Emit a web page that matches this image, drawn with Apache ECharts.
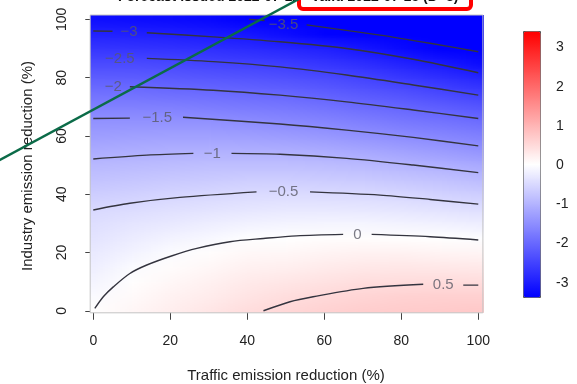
<!DOCTYPE html>
<html>
<head>
<meta charset="utf-8">
<script src="https://cdn.jsdelivr.net/npm/echarts@6/dist/echarts.min.js"></script>
<style>
  html, body { margin: 0; padding: 0; background: #fff; }
  #chart { width: 577px; height: 384px; }
</style>
</head>
<body>
<div id="chart"></div>
<script>
// grid of the surface: columns at xs, rows at ys
const xs = [0, 10, 20, 30, 40, 50, 60, 70, 80, 90, 100];
const ys = [0, 5, 10, 15, 20, 25, 30, 35, 40, 45, 50, 55, 60, 65, 70, 75, 80, 85, 90, 95, 100];
// one array per column (x), values bottom -> top (y)
const zCols = [
  [0.02, -0.06, -0.14, -0.21, -0.28, -0.36, -0.43, -0.51, -0.66, -0.8, -0.94, -1.11, -1.29, -1.46, -1.68, -1.91, -2.14, -2.42, -2.68, -2.95, -3.2],
  [0.12, 0.07, 0.02, -0.05, -0.16, -0.25, -0.35, -0.47, -0.61, -0.76, -0.91, -1.08, -1.27, -1.46, -1.68, -1.92, -2.16, -2.42, -2.7, -2.97, -3.22],
  [0.23, 0.17, 0.11, 0.04, -0.04, -0.16, -0.29, -0.42, -0.56, -0.72, -0.88, -1.05, -1.25, -1.45, -1.7, -1.96, -2.2, -2.45, -2.73, -3.0, -3.25],
  [0.34, 0.26, 0.19, 0.11, 0.03, -0.09, -0.23, -0.38, -0.52, -0.69, -0.86, -1.04, -1.25, -1.47, -1.73, -1.98, -2.24, -2.5, -2.78, -3.05, -3.3],
  [0.45, 0.36, 0.28, 0.19, 0.09, -0.02, -0.17, -0.33, -0.48, -0.66, -0.85, -1.05, -1.28, -1.52, -1.77, -2.03, -2.28, -2.55, -2.83, -3.11, -3.49],
  [0.53, 0.44, 0.33, 0.22, 0.11, 0.0, -0.15, -0.31, -0.47, -0.66, -0.86, -1.07, -1.32, -1.57, -1.82, -2.07, -2.33, -2.6, -2.89, -3.23, -3.6],
  [0.6, 0.51, 0.39, 0.27, 0.15, 0.03, -0.14, -0.31, -0.48, -0.68, -0.88, -1.11, -1.37, -1.63, -1.88, -2.14, -2.4, -2.69, -2.98, -3.37, -3.7],
  [0.65, 0.56, 0.44, 0.31, 0.17, 0.03, -0.14, -0.32, -0.5, -0.71, -0.92, -1.18, -1.46, -1.71, -1.97, -2.24, -2.51, -2.8, -3.11, -3.47, -3.8],
  [0.68, 0.6, 0.46, 0.32, 0.17, 0.02, -0.16, -0.35, -0.54, -0.76, -0.99, -1.25, -1.53, -1.8, -2.05, -2.34, -2.64, -2.95, -3.27, -3.62, -3.95],
  [0.7, 0.62, 0.47, 0.31, 0.15, 0.0, -0.19, -0.39, -0.6, -0.82, -1.06, -1.34, -1.6, -1.87, -2.15, -2.45, -2.76, -3.08, -3.43, -3.75, -4.05],
  [0.72, 0.62, 0.46, 0.3, 0.14, -0.03, -0.23, -0.44, -0.66, -0.89, -1.14, -1.42, -1.68, -1.95, -2.25, -2.57, -2.9, -3.24, -3.58, -3.9, -4.2]
];

// contour lines, split where the label sits
const contourSegments = [
  [[40.5, 100], [44.5, 99.6]],
  [[55.4, 98.1], [74.5, 94.6], [87.5, 91.8], [100, 88.9]],
  [[0, 96], [5, 95.9]],
  [[13.9, 95.4], [31.2, 94.0], [48.5, 92.3], [65.8, 90.0], [83.1, 86.3], [100, 81.7]],
  [[13.9, 86.6], [31.2, 85.5], [48.5, 83.7], [65.8, 80.9], [83.1, 77.5], [100, 74.0]],
  [[9.5, 76.9], [31.2, 75.7], [48.5, 74.0], [65.8, 71.7], [83.1, 68.9], [100, 66.0]],
  [[0, 66.0], [9.5, 66.1]],
  [[23.3, 66.4], [48.5, 64.1], [65.8, 62.0], [83.1, 59.5], [100, 56.6]],
  [[0, 52.1], [13.9, 53.4], [26, 54.0]],
  [[35.9, 54.0], [48.5, 53.7], [65.8, 52.3], [83.1, 50.0], [100, 47.4]],
  [[0, 34.6], [9.5, 36.9], [22.5, 38.9], [42.4, 40.8]],
  [[56.3, 40.8], [74.5, 39.7], [87.5, 38.2], [100, 36.6]],
  [[0.4, 0.8], [2.6, 4.8], [5.2, 8.2], [9.5, 12.8], [13.9, 15.7], [20.3, 18.8], [26.9, 21.4], [35.5, 23.7], [44.2, 24.8], [52.8, 25.7], [64.9, 26.2]],
  [[72.3, 26.2], [87.5, 25.4], [100, 24.3]],
  [[44.2, 0], [51.1, 3.1], [57.1, 4.8], [70.1, 7.7], [85.7, 9.1]],
  [[96.1, 8.8], [100, 8.8]]
];
const contourLabels = [
  ['−3.5', 49.4, 98.0],
  ['−3', 9.3, 95.6],
  ['−2.5', 6.9, 86.6],
  ['−2', 5.2, 76.9],
  ['−1.5', 16.6, 66.1],
  ['−1', 30.9, 54.0],
  ['−0.5', 49.4, 40.8],
  ['0', 68.6, 26.2],
  ['0.5', 90.9, 8.9]
];

const zMin = -3.4, zMax = 3.4;
const X_EXT = [-0.8, 101.2], Y_EXT = [-0.7, 101.5];
const FONT = "'Liberation Sans', Arial, sans-serif";

function zColor(z) {
  const t = Math.max(-1, Math.min(1, z / zMax));
  if (t < 0) {
    const c = Math.round(255 * (1 + t));
    return [c, c, 255];
  }
  const c = Math.round(255 * (1 - t));
  return [255, c, c];
}

// one pixel per grid value; the browser smooths it when it is stretched
const surface = document.createElement('canvas');
surface.width = xs.length;
surface.height = ys.length;
(function () {
  const ctx = surface.getContext('2d');
  const img = ctx.createImageData(xs.length, ys.length);
  for (let i = 0; i < xs.length; i++) {
    for (let k = 0; k < ys.length; k++) {
      const rgb = zColor(zCols[i][k]);
      const p = ((ys.length - 1 - k) * xs.length + i) * 4;
      img.data[p] = rgb[0];
      img.data[p + 1] = rgb[1];
      img.data[p + 2] = rgb[2];
      img.data[p + 3] = 255;
    }
  }
  ctx.putImageData(img, 0, 0);
})();

const chart = echarts.init(document.getElementById('chart'));

const lineSeries = contourSegments.map(seg => ({
  type: 'line',
  xAxisIndex: 0,
  yAxisIndex: 0,
  data: seg,
  smooth: 0.3,
  showSymbol: false,
  silent: true,
  z: 3,
  lineStyle: { color: '#34343f', width: 1.4 }
}));

const dx = (xs[1] - xs[0]) / 2, dy = (ys[1] - ys[0]) / 2;

const option = {
  animation: false,
  backgroundColor: '#fff',
  grid: [
    { left: 90.2, top: 15, width: 392.7, height: 297.8, show: true, borderColor: '#c4c4c4', borderWidth: 1, z: 10 },
    { left: 93.28, top: 19.36, width: 385, height: 291.4 },
    { left: 523, top: 47.6, width: 17, height: 235.2 }
  ],
  xAxis: [
    { gridIndex: 0, type: 'value', min: X_EXT[0], max: X_EXT[1], show: false },
    {
      gridIndex: 1, type: 'value', min: 0, max: 100, interval: 20, offset: 3,
      axisLine: { lineStyle: { color: '#444', width: 1 } },
      axisTick: { length: 9, lineStyle: { color: '#444' } },
      axisLabel: { margin: 20, fontSize: 14, color: '#222', fontFamily: FONT },
      splitLine: { show: false }
    },
    { gridIndex: 2, type: 'value', show: false }
  ],
  yAxis: [
    { gridIndex: 0, type: 'value', min: Y_EXT[0], max: Y_EXT[1], show: false },
    {
      gridIndex: 1, type: 'value', min: 0, max: 100, interval: 20, offset: 5,
      axisLine: { show: true, lineStyle: { color: '#444', width: 1 } },
      axisTick: { show: true, length: 8, lineStyle: { color: '#444' } },
      axisLabel: { margin: 19, rotate: 90, fontSize: 14, color: '#222', fontFamily: FONT },
      splitLine: { show: false }
    },
    {
      gridIndex: 2, type: 'value', min: -3, max: 3, interval: 1, position: 'right',
      axisLine: { show: false },
      axisTick: { show: true, length: 7, lineStyle: { color: '#444' } },
      axisLabel: { margin: 16, fontSize: 14, color: '#222', fontFamily: FONT },
      splitLine: { show: false }
    }
  ],
  visualMap: {
    type: 'continuous',
    seriesIndex: 0,
    min: zMin,
    max: zMax,
    calculable: false,
    orient: 'vertical',
    left: 523,
    top: 31,
    itemWidth: 17,
    itemHeight: 266,
    padding: 0,
    borderColor: '#555',
    borderWidth: 1,
    text: null,
    inRange: { color: ['#0000ff', '#ffffff', '#ff0000'] }
  },
  series: [
    {
      type: 'custom',
      xAxisIndex: 0,
      yAxisIndex: 0,
      silent: true,
      clip: true,
      z: 1,
      data: [[xs[0], ys[0]]],
      renderItem: function (params, api) {
        const pa = api.coord([xs[0] - dx, ys[ys.length - 1] + dy]);
        const pb = api.coord([xs[xs.length - 1] + dx, ys[0] - dy]);
        return {
          type: 'image',
          style: { image: surface, x: pa[0], y: pa[1], width: pb[0] - pa[0], height: pb[1] - pa[1] }
        };
      }
    },
    ...lineSeries,
    {
      type: 'scatter',
      xAxisIndex: 0,
      yAxisIndex: 0,
      symbolSize: 0,
      silent: true,
      z: 4,
      data: contourLabels.map(l => ({ name: l[0], value: [l[1], l[2]] })),
      label: {
        show: true,
        position: 'inside',
        formatter: p => p.name,
        color: '#5a5a66',
        fontSize: 15,
        fontFamily: FONT
      }
    }
  ],
  graphic: [
    {
      type: 'text', z: 20, x: 300, y: -3,
      style: { text: 'Forecast issued 2022-07-12', fill: '#111', font: 'bold 14px ' + FONT, align: 'right', verticalAlign: 'middle' }
    },
    {
      type: 'text', z: 20, x: 311, y: -3,
      style: { text: 'Valid 2022-07-15 (D+3)', fill: '#111', font: 'bold 14px ' + FONT, align: 'left', verticalAlign: 'middle' }
    },
    {
      type: 'rect', z: 21,
      shape: { x: 299, y: -20, width: 172, height: 29, r: 4 },
      style: { fill: null, stroke: '#ff0000', lineWidth: 4 }
    },
    {
      type: 'line', z: 22,
      shape: { x1: -2, y1: 161, x2: 299, y2: -1 },
      style: { stroke: '#0b6b48', lineWidth: 2.5 }
    },
    {
      type: 'text', z: 20, x: 286, y: 376,
      style: { text: 'Traffic emission reduction (%)', fill: '#222', font: '15px ' + FONT, align: 'center', verticalAlign: 'middle' }
    },
    {
      type: 'text', z: 20, x: 28, y: 166, rotation: Math.PI / 2,
      style: { text: 'Industry emission reduction (%)', fill: '#222', font: '15px ' + FONT, align: 'center', verticalAlign: 'middle' }
    }
  ]
};

chart.setOption(option);
</script>
</body>
</html>
